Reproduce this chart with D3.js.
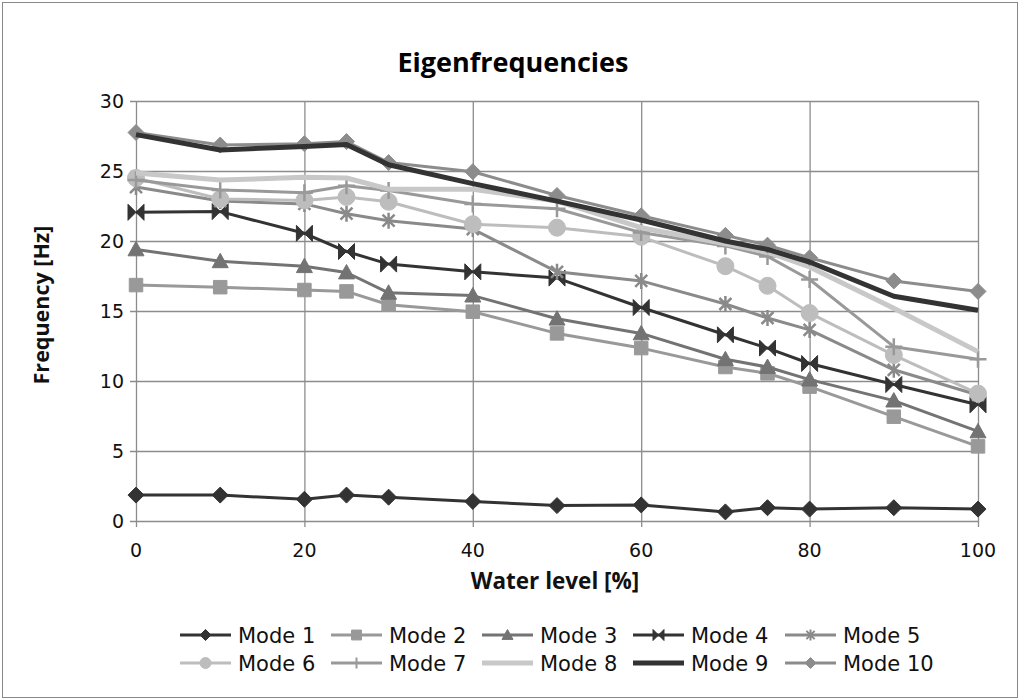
<!DOCTYPE html>
<html><head><meta charset="utf-8">
<script src="https://cdn.jsdelivr.net/npm/d3@7"></script>
<style>html,body{margin:0;padding:0;background:#fff;}svg{display:block;}</style>
</head><body>
<svg id="chart" width="1020" height="700"></svg>
<script>
const waterLevels = [0, 10, 20, 25, 30, 40, 50, 60, 70, 75, 80, 90, 100];
const seriesNames = ["Mode 1","Mode 2","Mode 3","Mode 4","Mode 5","Mode 6","Mode 7","Mode 8","Mode 9","Mode 10"];
const mode1  = [1.85, 1.85, 1.55, 1.85, 1.7, 1.4, 1.1, 1.15, 0.65, 0.95, 0.85, 0.95, 0.85];
const mode2  = [16.85, 16.7, 16.5, 16.4, 15.45, 14.95, 13.4, 12.35, 11.0, 10.55, 9.6, 7.45, 5.33];
const mode3  = [19.4, 18.55, 18.2, 17.75, 16.3, 16.1, 14.45, 13.4, 11.55, 11.0, 10.1, 8.6, 6.4];
const mode4  = [22.05, 22.1, 20.55, 19.25, 18.35, 17.8, 17.35, 15.25, 13.3, 12.35, 11.25, 9.75, 8.3];
const mode5  = [23.85, 22.85, 22.65, 21.95, 21.45, 20.85, 17.8, 17.15, 15.5, 14.5, 13.65, 10.8, 9.0];
const mode6  = [24.5, 23.0, 22.9, 23.15, 22.8, 21.2, 20.95, 20.3, 18.2, 16.8, 14.85, 11.85, 9.1];
const mode7  = [24.35, 23.65, 23.45, 23.95, 23.6, 22.65, 22.3, 20.6, 19.65, 18.9, 17.25, 12.45, 11.55];
const mode8  = [24.85, 24.35, 24.55, 24.5, 23.7, 23.7, 22.85, 20.95, 19.8, 19.2, 18.15, 15.2, 12.1];
const mode9  = [27.6, 26.5, 26.75, 26.9, 25.45, 24.1, 22.85, 21.5, 20.0, 19.4, 18.5, 16.05, 15.05];
const mode10 = [27.75, 26.85, 26.95, 27.1, 25.6, 24.95, 23.25, 21.8, 20.4, 19.7, 18.8, 17.15, 16.4];
const yTicks = [0, 5, 10, 15, 20, 25, 30];
const xTicks = [0, 20, 40, 60, 80, 100];
const titleText = "Eigenfrequencies";
const xTitle = "Water level [%]";
const yTitle = "Frequency [Hz]";

const allValues = [mode1,mode2,mode3,mode4,mode5,mode6,mode7,mode8,mode9,mode10];
const styles = [
  {color:"#333333", width:3, marker:"diamond", size:16},
  {color:"#999999", width:3, marker:"square", size:15},
  {color:"#737373", width:3, marker:"triangle", size:16},
  {color:"#333333", width:3, marker:"bowtie", size:16},
  {color:"#8a8a8a", width:3, marker:"asterisk", size:16},
  {color:"#bdbdbd", width:3, marker:"circle", size:17},
  {color:"#999999", width:3, marker:"plus", size:17},
  {color:"#c8c8c8", width:5, marker:null, size:0},
  {color:"#333333", width:5, marker:null, size:0},
  {color:"#8c8c8c", width:3, marker:"diamond", size:16}
];

function markerPath(type, s) {
  const h = s/2;
  switch(type){
    case "diamond": return `M0,${-h}L${h},0L0,${h}L${-h},0Z`;
    case "square": { const q=h*0.9; return `M${-q},${-q}L${q},${-q}L${q},${q}L${-q},${q}Z`; }
    case "triangle": return `M0,${-h}L${h},${h*0.8}L${-h},${h*0.8}Z`;
    case "bowtie": return `M${-h},${-h}L${h},${h}L${h},${-h}L${-h},${h}Z`;
    case "circle": return d3.symbol(d3.symbolCircle, Math.PI*h*h)();
    case "asterisk": { const q=h*0.75; return `M${-q},${-q}L${q},${q}M${-q},${q}L${q},${-q}M0,${-h}L0,${h}`; }
    case "plus": return `M0,${-h}L0,${h}M${-h},0L${h},0`;
  }
  return "";
}
const strokeOnly = t => t==="asterisk" || t==="plus";

const svg = d3.select("#chart");
svg.append("rect").attr("x",2.5).attr("y",2.5).attr("width",1015).attr("height",695)
  .attr("fill","#fff").attr("stroke","#888").attr("stroke-width",1);

const x = d3.scaleLinear().domain([0,100]).range([136,978]);
const y = d3.scaleLinear().domain([0,30]).range([521,101]);

const grid = svg.append("g");
grid.selectAll("line.h").data(yTicks).join("line")
  .attr("x1",x(0)-6).attr("x2",x(100)).attr("y1",d=>y(d)+0.5).attr("y2",d=>y(d)+0.5)
  .attr("stroke","#8c8c8c").attr("stroke-width",1.3);
grid.selectAll("line.v").data(xTicks).join("line")
  .attr("x1",d=>x(d)+0.5).attr("x2",d=>x(d)+0.5).attr("y1",y(30)).attr("y2",y(0)+6)
  .attr("stroke","#8c8c8c").attr("stroke-width",1.3);

const axisFont = "'DejaVu Sans', sans-serif";
svg.append("g").selectAll("text").data(yTicks).join("text")
  .attr("x",x(0)-12).attr("y",d=>y(d)+7).attr("text-anchor","end")
  .attr("font-family",axisFont).attr("font-size",19).attr("fill","#111").text(d=>d);
svg.append("g").selectAll("text").data(xTicks).join("text")
  .attr("x",d=>x(d)).attr("y",557).attr("text-anchor","middle")
  .attr("font-family",axisFont).attr("font-size",19).attr("fill","#111").text(d=>d);

const titleFont = "'Open Sans', Lato, sans-serif";
svg.append("text").attr("x",513).attr("y",72).attr("text-anchor","middle")
  .attr("font-family",titleFont).attr("font-weight",700).attr("font-size",27).attr("fill","#000").text(titleText);
svg.append("text").attr("x",555).attr("y",589).attr("text-anchor","middle")
  .attr("font-family",titleFont).attr("font-weight",700).attr("font-size",22.5).attr("fill","#111").text(xTitle);
svg.append("text").attr("transform","translate(49,305) rotate(-90)").attr("text-anchor","middle")
  .attr("font-family",titleFont).attr("font-weight",700).attr("font-size",21.5).attr("fill","#111").text(yTitle);

const line = d3.line().x((d,i)=>x(waterLevels[i])).y(d=>y(d));
const order = [0,1,2,3,4,5,6,7,9,8];
const plot = svg.append("g");
order.forEach(k=>{
  const st = styles[k];
  const g = plot.append("g");
  g.append("path").datum(allValues[k]).attr("d",line).attr("fill","none")
    .attr("stroke",st.color).attr("stroke-width",st.width).attr("stroke-linejoin","round");
  if(st.marker){
    g.selectAll("path.m").data(allValues[k]).join("path").attr("class","m")
      .attr("transform",(d,i)=>`translate(${x(waterLevels[i])},${y(d)})`)
      .attr("d",markerPath(st.marker, st.size))
      .attr("fill",strokeOnly(st.marker)?"none":st.color)
      .attr("stroke",st.color).attr("stroke-width",strokeOnly(st.marker)?2.5:1);
  }
});

// legend
const colX = [180, 331, 482, 633, 785];
const rowY = [635, 663];
const leg = svg.append("g");
seriesNames.forEach((name,k)=>{
  const st = styles[k];
  const cx = colX[k%5], cy = rowY[Math.floor(k/5)];
  const g = leg.append("g").attr("transform",`translate(${cx},${cy})`);
  g.append("line").attr("x1",0).attr("x2",51).attr("y1",0).attr("y2",0)
    .attr("stroke",st.color).attr("stroke-width",st.width);
  if(st.marker){
    g.append("path").attr("transform","translate(25.5,0)").attr("d",markerPath(st.marker, 11))
      .attr("fill",strokeOnly(st.marker)?"none":st.color)
      .attr("stroke",st.color).attr("stroke-width",strokeOnly(st.marker)?2:1);
  }
  g.append("text").attr("x",58).attr("y",7.5).attr("font-family",axisFont).attr("font-size",21)
    .attr("fill","#111").text(name);
});
</script>
</body></html>
